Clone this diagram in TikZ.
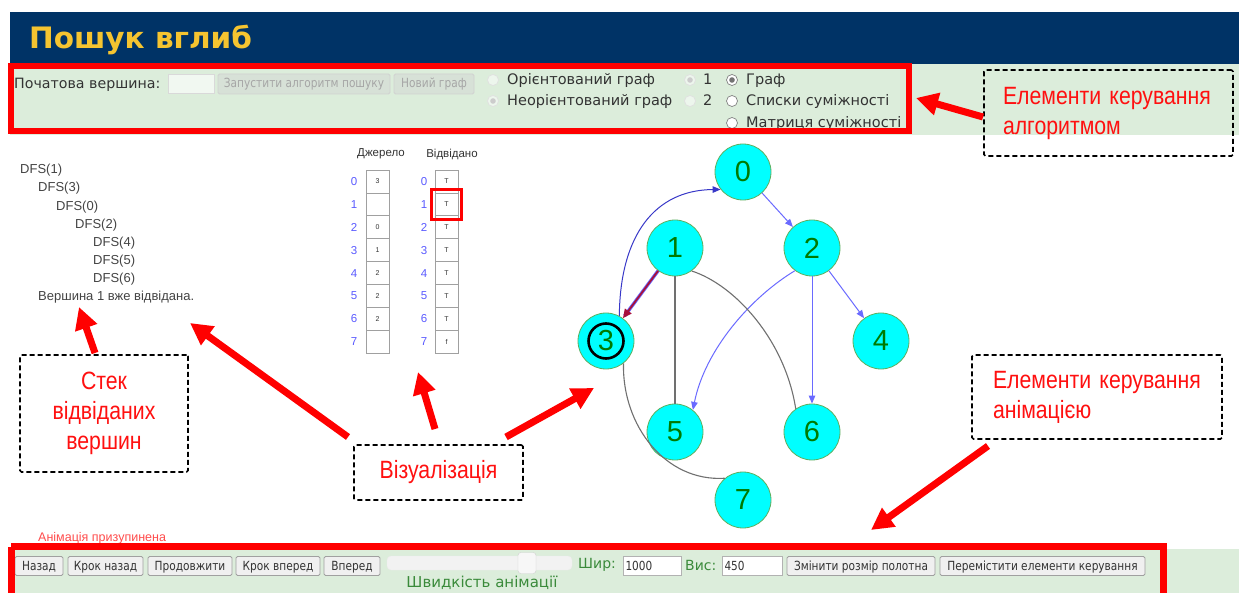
\documentclass[tikz,border=0pt]{standalone}
\usepackage{fontspec}
\setmainfont{Liberation Sans}
\newfontfamily\uifont{DejaVu Sans}
\newfontfamily\btnfont[FakeStretch=0.84]{DejaVu Sans}
\newfontfamily\callfont[FakeStretch=0.85]{Liberation Sans}
\newfontfamily\titlefont{DejaVu Sans}
\usetikzlibrary{arrows.meta}
\definecolor{hdrblue}{HTML}{003366}
\definecolor{titleyellow}{HTML}{F5C430}
\definecolor{bandgreen}{HTML}{DCEDDB}
\definecolor{calred}{HTML}{FF1010}
\definecolor{nodecyan}{HTML}{00FFFF}
\definecolor{nodeborder}{HTML}{5FAF5F}
\definecolor{nodetext}{HTML}{007A00}
\definecolor{edgeblue}{HTML}{6A6AFF}
\definecolor{edgedark}{HTML}{3838C8}
\definecolor{edgegrey}{HTML}{707070}
\definecolor{hiedge}{HTML}{A8103C}
\definecolor{idxblue}{HTML}{5A5AFF}
\definecolor{cellgrey}{HTML}{A0A0A0}
\definecolor{uitext}{HTML}{333333}
\definecolor{greentext}{HTML}{3A8A3A}
\definecolor{stacktext}{HTML}{444444}
\begin{document}
\begin{tikzpicture}[x=1pt,y=-1pt,
  gnode/.style={circle, minimum size=56pt, inner sep=0pt, fill=nodecyan, draw=nodeborder, line width=0.8pt, text=nodetext, font=\fontsize{29}{29}\selectfont},
  bedge/.style={draw=edgeblue, line width=1pt, -{Triangle[length=8pt,width=6.5pt]}},
  gedge/.style={draw=edgegrey, line width=1.1pt},
  callout/.style={draw=black, dash pattern=on 5pt off 3pt, line width=1.6pt, rounded corners=1.5pt, text=calred, font=\callfont\fontsize{25}{30}\selectfont},
  redarrow/.style={draw=red, line width=7pt, -{Triangle[length=22pt,width=22pt]}},
  cell/.style={draw=cellgrey, line width=0.7pt, minimum width=23pt, minimum height=22.9pt, inner sep=0pt, font=\fontsize{7}{7}\selectfont, text=uitext},
  idx/.style={text=idxblue, font=\fontsize{11.5}{12}\selectfont, inner sep=0pt},
  stk/.style={anchor=west, inner sep=0pt, text=stacktext, font=\fontsize{13}{13}\selectfont},
  btn/.style={draw=cellgrey, fill=white!94!black, rounded corners=1.5pt, line width=0.8pt, minimum height=19pt, inner sep=0pt, text height=9pt, text depth=1pt, text=uitext, font=\btnfont\fontsize{12.6}{12.6}\selectfont},
  dbtn/.style={draw=black!18, fill=bandgreen!60!white!92!black, rounded corners=1.5pt, line width=0.8pt, minimum height=20pt, inner sep=0pt, text height=9pt, text depth=1pt, text=black!35, font=\btnfont\fontsize{12.6}{12.6}\selectfont},
  inbox/.style={draw=black!30, fill=white, line width=0.8pt, minimum height=19pt, inner sep=0pt, text height=9pt, text depth=1pt},
  uitxt/.style={anchor=base west, inner sep=0pt, text=uitext, font=\uifont\fontsize{14.5}{14.5}\selectfont},
  radio/.style={circle, minimum size=11pt, inner sep=0pt, line width=0.7pt},
  gtxt/.style={inner sep=0pt, text=greentext, font=\uifont\fontsize{15}{15}\selectfont}
]
\useasboundingbox (0,0) rectangle (1239,593);
\fill[white] (0,0) rectangle (1239,593);
% header and bands
\fill[hdrblue] (10,12) rectangle (1239,64);
\fill[bandgreen] (10,64) rectangle (1239,135);
\fill[bandgreen] (10,549) rectangle (1239,593);
\node[anchor=west, inner sep=0pt, text=titleyellow, font=\titlefont\bfseries\fontsize{29.5}{29.5}\selectfont] (title) at (29,40) {Пошук вглиб};
% top controls
\node[uitxt, font=\uifont\fontsize{14.2}{14.2}\selectfont] (startlbl) at (14,89) {Початова вершина:};
\node[inbox, draw=black!15, fill=bandgreen!40!white, minimum width=46pt] (startin) at (191,84) {};
\node[dbtn, minimum width=172pt] (runbtn) at (304,84) {Запустити алгоритм пошуку};
\node[dbtn, minimum width=80pt] (newbtn) at (434,84) {Новий граф};
\node[radio, draw=black!12, fill=bandgreen!50!white] (r1) at (493,80) {};
\node[radio, draw=black!12, fill=bandgreen!50!white] (r2) at (493,101) {};
\fill[black!20] (r2.center) circle (2.8pt);
\node[uitxt] (t1) at (507,85) {Орієнтований граф};
\node[uitxt] (t2) at (507,106) {Неорієнтований граф};
\node[radio, draw=black!12, fill=bandgreen!50!white] (r3) at (690,80) {};
\fill[black!20] (r3.center) circle (2.8pt);
\node[radio, draw=black!12, fill=bandgreen!50!white] (r4) at (690,101) {};
\node[uitxt] (t3) at (703,85) {1};
\node[uitxt] (t4) at (703,106) {2};
\node[radio, draw=black!50, fill=white] (r5) at (732,80) {};
\fill[black!55] (r5.center) circle (2.8pt);
\node[radio, draw=black!50, fill=white] (r6) at (732,101) {};
\node[radio, draw=black!50, fill=white] (r7) at (732,123) {};
\node[uitxt] (t5) at (746,85) {Граф};
\node[uitxt] (t6) at (746,106) {Списки суміжності};
\node[uitxt] (t7) at (746,128) {Матриця суміжності};
\draw[red, line width=6.5pt] (11,66) rectangle (909,131);
% stack
\node[stk] (s1) at (20,170) {DFS(1)};
\node[stk] (s2) at (38,188) {DFS(3)};
\node[stk] (s3) at (56,207) {DFS(0)};
\node[stk] (s4) at (75,225) {DFS(2)};
\node[stk] (s5) at (93,243) {DFS(4)};
\node[stk] (s6) at (93,261) {DFS(5)};
\node[stk] (s7) at (93,279) {DFS(6)};
\node[stk] (s8) at (38,297) {Вершина 1 вже відвідана.};
% tables
\node[text=uitext, font=\fontsize{11.5}{12}\selectfont] (hsrc) at (381,154) {Джерело};
\node[text=uitext, font=\fontsize{11.5}{12}\selectfont] (hvis) at (452,154) {Відвідано};
\foreach \i/\a/\b in {0/3/T,1//T,2/0/T,3/1/T,4/2/T,5/2/T,6/2/T,7//f}{
  \pgfmathsetmacro\yy{181.45+22.9*\i}
  \node[idx] (ia\i) at (354,\yy) {\i};
  \node[cell] (ca\i) at (377.5,\yy) {\a};
  \node[idx] (ib\i) at (424,\yy) {\i};
  \node[cell] (cb\i) at (446.5,\yy) {\b};
}
\node[draw=red, line width=3pt, minimum width=30pt, minimum height=30pt, inner sep=0pt] (hl) at (446.5,204.35) {};
% graph
\node[gnode] (n0) at (743,172) {0};
\node[gnode] (n1) at (675,248) {1};
\node[gnode] (n2) at (812,248) {2};
\node[gnode] (n3) at (606,341) {3};
\node[gnode] (n4) at (881,341) {4};
\node[gnode] (n5) at (675,432) {5};
\node[gnode] (n6) at (812,432) {6};
\node[gnode] (n7) at (743,500) {7};
\node[circle, draw=black, line width=2.6pt, minimum size=35pt, inner sep=0pt] (n3ring) at (n3) {};
\draw[bedge] (n0) -- (n2);
\draw[bedge] (n2) -- (n4);
\draw[bedge] (n2) -- (n6);
\draw[bedge] (n2.233) .. controls (750,298) and (705,350) .. (n5.51);
\draw[bedge, draw=edgedark] (n3.62) .. controls (620,235) and (655,190) .. (n0.218);
\draw[gedge] (n1) -- (n5);
\draw[gedge] (n1.-54) .. controls (735,285) and (785,340) .. (n6.125);
\draw[gedge] (n3.-52) .. controls (622,425) and (665,482) .. (n7.130);
\draw[draw=edgeblue, line width=3.4pt, shorten >=3pt] (n1) -- (n3);
\draw[draw=hiedge, line width=1.8pt, -{Triangle[length=9pt,width=8pt]}] (n1) -- (n3);
% callouts
\node[callout, minimum width=249pt, minimum height=86pt, text width=211pt, inner xsep=19pt, align=left] (calg) at (1108.5,113) {Елементи керування\\алгоритмом};
\node[callout, minimum width=168pt, minimum height=117pt, align=center] (cstack) at (104,413.5) {Стек\\відвіданих\\вершин};
\node[callout, minimum width=169pt, minimum height=55pt, align=center] (cvis) at (438.5,472.5) {Візуалізація};
\node[callout, minimum width=250pt, minimum height=84pt, text width=208pt, inner xsep=21pt, align=left] (canim) at (1097,397) {Елементи керування\\анімацією};
\coordinate (aAlgT) at (983,117);
\coordinate (aAlgH) at (916,98);
\coordinate (aStkT) at (95,353);
\coordinate (aStkH) at (79,307);
\coordinate (aVis1T) at (348,437);
\coordinate (aVis1H) at (190,323);
\coordinate (aVis2T) at (435,429);
\coordinate (aVis2H) at (418,372);
\coordinate (aVis3T) at (506,437);
\coordinate (aVis3H) at (594,388);
\coordinate (aAnimT) at (988,446);
\coordinate (aAnimH) at (871,530);
\draw[redarrow] (aAlgT) -- (aAlgH);
\draw[redarrow] (aStkT) -- (aStkH);
\draw[redarrow] (aVis1T) -- (aVis1H);
\draw[redarrow] (aVis2T) -- (aVis2H);
\draw[redarrow] (aVis3T) -- (aVis3H);
\draw[redarrow] (aAnimT) -- (aAnimH);
% bottom controls
\node[anchor=west, inner sep=0pt, text=red!70, font=\fontsize{12.5}{12.5}\selectfont] (status) at (38,538) {Анімація призупинена};
\node[btn, minimum width=48pt] (bback) at (39,566) {Назад};
\node[btn, minimum width=75pt] (bstepb) at (105.5,566) {Крок назад};
\node[btn, minimum width=84pt] (bcont) at (190,566) {Продовжити};
\node[btn, minimum width=84pt] (bstepf) at (278,566) {Крок вперед};
\node[btn, minimum width=56pt] (bfwd) at (352,566) {Вперед};
\node[draw=black!8, fill=black!5, rounded corners=4pt, minimum width=185pt, minimum height=14pt, inner sep=0pt] (track) at (479.5,563) {};
\node[draw=black!18, fill=white!97!black, rounded corners=3pt, minimum width=18pt, minimum height=21pt, inner sep=0pt] (thumb) at (527,563) {};
\node[gtxt, anchor=west, font=\uifont\fontsize{14}{14}\selectfont] (wlbl) at (578,565) {Шир:};
\node[inbox, minimum width=58pt, text width=53pt, align=left, font=\btnfont\fontsize{12.5}{12.5}\selectfont, text=uitext] (win) at (652,566) {1000};
\node[gtxt, anchor=west, font=\uifont\fontsize{14}{14}\selectfont] (hlbl) at (685,565) {Вис:};
\node[inbox, minimum width=60pt, text width=55pt, align=left, font=\btnfont\fontsize{12.5}{12.5}\selectfont, text=uitext] (hin) at (752,566) {450};
\node[btn, minimum width=148pt] (bresize) at (861,566) {Змінити розмір полотна};
\node[btn, minimum width=205pt] (bmove) at (1042.5,566) {Перемістити елементи керування};
\node[gtxt] (speed) at (482,583) {Швидкість анімації};
\draw[red, line width=7pt] (11,546.5) -- (1163,546.5) -- (1163,600);
\draw[red, line width=7pt] (11,546.5) -- (11,600);
\end{tikzpicture}
\end{document}
